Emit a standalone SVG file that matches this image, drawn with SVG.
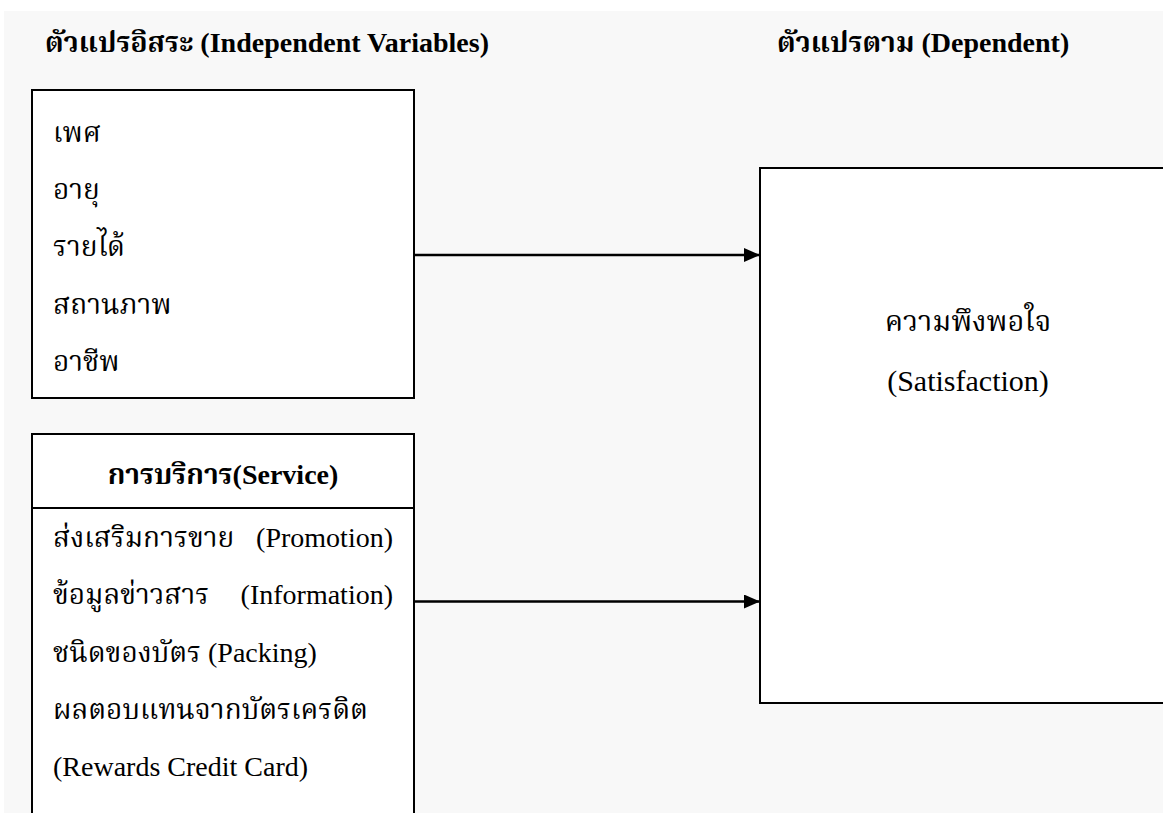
<svg xmlns="http://www.w3.org/2000/svg" width="1163" height="813" viewBox="0 0 1163 813">
<defs>
<style>
.box{fill:#ffffff;stroke:#000000;stroke-width:2}
.t{font-family:"Liberation Serif","Noto Serif Thai","Noto Sans Thai",serif;font-size:28px;fill:#000000}
.b{font-weight:bold}
.m{text-anchor:middle}
.e{text-anchor:end}
.conn{stroke:#000000;stroke-width:2.5;fill:none}
</style>
<marker id="arr" viewBox="0 0 16 14" refX="16" refY="7" markerWidth="16" markerHeight="14" markerUnits="userSpaceOnUse" orient="auto">
<path d="M0,0 L16,7 L0,14 Z" fill="#000000"/>
</marker>
</defs>
<rect x="0" y="0" width="1163" height="813" fill="#ffffff"/>
<rect x="4" y="11" width="1159" height="802" fill="#f8f8f8"/>

<g id="title-independent">
<text class="t b" x="45" y="52">ตัวแปรอิสระ (Independent Variables)</text>
</g>
<g id="title-dependent">
<text class="t b" x="777" y="52">ตัวแปรตาม (Dependent)</text>
</g>

<g id="node-demographic">
<rect class="box" x="32" y="90" width="382" height="308"/>
<text class="t" x="53" y="142">เพศ</text>
<text class="t" x="53" y="199">อายุ</text>
<text class="t" x="53" y="256">รายได้</text>
<text class="t" x="53" y="314">สถานภาพ</text>
<text class="t" x="53" y="371">อาชีพ</text>
</g>

<g id="node-service">
<rect class="box" x="32" y="434" width="382" height="400"/>
<line x1="32" y1="508" x2="414" y2="508" stroke="#000000" stroke-width="2"/>
<text class="t b m" x="223" y="484">การบริการ(Service)</text>
<text class="t" x="53" y="547">ส่งเสริมการขาย</text>
<text class="t e" x="393" y="547">(Promotion)</text>
<text class="t" x="53" y="604">ข้อมูลข่าวสาร</text>
<text class="t e" x="393" y="604">(Information)</text>
<text class="t" x="53" y="662">ชนิดของบัตร (Packing)</text>
<text class="t" x="53" y="719">ผลตอบแทนจากบัตรเครดิต</text>
<text class="t" x="53" y="776">(Rewards Credit Card)</text>
</g>

<g id="node-satisfaction">
<rect class="box" x="760" y="168" width="430" height="535"/>
<text class="t m" x="968" y="331" style="font-size:29px">ความพึงพอใจ</text>
<text class="t m" x="968" y="391" style="font-size:30px">(Satisfaction)</text>
</g>

<g id="connectors">
<line class="conn" x1="414" y1="255" x2="760" y2="255" marker-end="url(#arr)"/>
<line class="conn" x1="414" y1="601.5" x2="760" y2="601.5" marker-end="url(#arr)"/>
</g>
</svg>
